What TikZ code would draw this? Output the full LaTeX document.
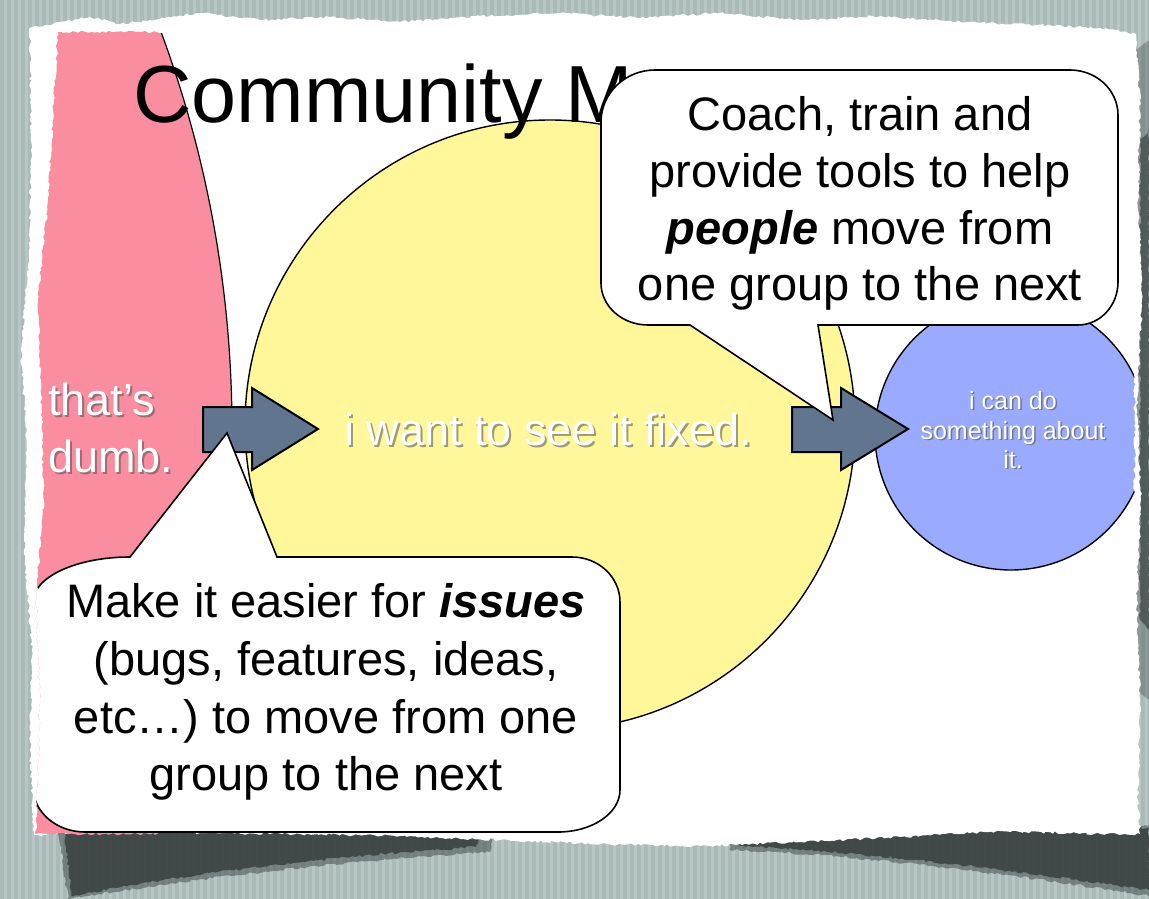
\documentclass[tikz,border=0pt]{standalone}
\usepackage{fontspec}
\setmainfont{Liberation Sans}
\usetikzlibrary{decorations.pathmorphing}
\definecolor{bgc}{RGB}{184,199,198}
\definecolor{bgs}{RGB}{170,186,185}
\definecolor{pinkc}{RGB}{250,142,160}
\definecolor{yellowc}{RGB}{255,247,153}
\definecolor{bluec}{RGB}{153,170,255}
\definecolor{arrowc}{RGB}{98,117,142}
\definecolor{shadowc}{RGB}{60,68,67}
\definecolor{txtshadow}{RGB}{80,80,80}
\tikzset{
  torn/.style={decorate, decoration={random steps, segment length=3pt, amplitude=1.3pt}},
  shapeline/.style={draw=black, line width=1.4pt},
  blockarrow/.style={fill=arrowc, draw=black, line width=2pt, line join=miter},
  callout/.style={fill=white, draw=black, line width=1.6pt, line join=miter},
  calltext/.style={anchor=base, inner sep=0pt, text=black, font=\fontsize{47}{57}\selectfont},
  bigwhite/.style={inner sep=0pt, text=white, font=\fontsize{45}{54}\selectfont},
  bigshadow/.style={inner sep=0pt, text=txtshadow, opacity=0.55, font=\fontsize{45}{54}\selectfont},
  smallwhite/.style={anchor=base, inner sep=0pt, text=white, font=\fontsize{25}{30}\selectfont},
  smallshadow/.style={anchor=base, inner sep=0pt, text=txtshadow, opacity=0.6, font=\fontsize{25}{30}\selectfont},
}
\begin{document}
\begin{tikzpicture}[x=1pt,y=-1pt]
\useasboundingbox (0,0) rectangle (1149,899);
% background with stripes
\fill[bgc] (0,0) rectangle (1149,899);
\foreach \i in {0,7,...,1149} { \fill[bgs] (\i,0) rectangle (\i+3.5,899); }
% shadows under the paper
\pgfmathsetseed{11}
\fill[shadowc, opacity=0.5, torn] (58,826) -- (492,832) -- (490,852) .. controls (320,862) and (160,884) .. (68,899) -- cycle;
\fill[shadowc, opacity=0.9, torn] (64,828) -- (480,834) -- (476,847) .. controls (300,858) and (150,880) .. (72,896) -- cycle;
\fill[shadowc, opacity=0.5, torn] (728,830) -- (1149,826) -- (1149,896) .. controls (1000,872) and (850,854) .. (730,850) -- cycle;
\fill[shadowc, opacity=0.9, torn] (738,832) -- (1149,828) -- (1149,890) .. controls (1000,868) and (850,851) .. (740,846) -- cycle;
% right-edge shadow
\fill[shadowc, opacity=0.35] (1136,50) -- (1149,40) -- (1149,700) -- (1136,690) -- cycle;
\fill[shadowc, opacity=0.7, torn] (1140,140) -- (1149,130) -- (1149,630) -- (1140,620) -- cycle;
% the torn paper
\pgfmathsetseed{3}
\fill[white, torn] (30,28) -- (60,22) -- (90,17) -- (120,24) -- (150,20) -- (200,13) -- (260,20) -- (330,17) -- (400,22) -- (480,16) -- (560,13) -- (640,18) -- (720,13) -- (800,20) -- (880,16) -- (960,22) -- (1040,25) -- (1100,28) -- (1136,34)
  -- (1140,100) -- (1138,200) -- (1142,300) -- (1137,400) -- (1141,500) -- (1137,600) -- (1140,700) -- (1138,800) -- (1140,834)
  -- (1100,834) -- (1000,831) -- (900,837) -- (800,842) -- (700,846) -- (600,844) -- (500,840) -- (400,836) -- (300,834) -- (200,833) -- (100,831) -- (34,835)
  -- (30,750) -- (32,650) -- (24,550) -- (27,450) -- (21,350) -- (29,250) -- (31,150) -- cycle;
% slide content, clipped to the torn slide area
\begin{scope}
\pgfmathsetseed{5}
\clip[torn] (58,32) -- (1134,32) -- (1133,300) -- (1135,450) -- (1132,600) -- (1134,834) -- (36,834) -- (40,700) -- (36,600) -- (44,500) -- (42,420) -- (38,300) -- (48,200) -- (54,100) -- cycle;
% pink group
\fill[pinkc] (-915,430) circle[radius=1147];
\draw[black, line width=1.2pt] (-915,430) circle[radius=1147];
% yellow group
\draw[shapeline, fill=yellowc] (550,425) circle[radius=305];
% blue group
\draw[shapeline, fill=bluec] (1011,434) circle[radius=136];
% title
\node[anchor=base west, inner sep=0pt, font=\fontsize{81}{97}\selectfont] (title) at (133,122) {Community Management};
% group labels
\node[bigshadow, anchor=base west] (dumbS1) at (50,417) {that’s};
\node[bigwhite, anchor=base west] (dumb1) at (48,415) {that’s};
\node[bigshadow, anchor=base west] (dumbS2) at (50,474) {dumb.};
\node[bigwhite, anchor=base west] (dumb2) at (48,472) {dumb.};
\node[bigshadow, anchor=base] (fixS) at (550,447) {i want to see it fixed.};
\node[bigwhite, anchor=base] (fix) at (548,445) {i want to see it fixed.};
\node[smallshadow] (doS1) at (1014.5,410.5) {i can do};
\node[smallwhite] (do1) at (1013,409) {i can do};
\node[smallshadow] (doS2) at (1014.5,440.5) {something about};
\node[smallwhite] (do2) at (1013,439) {something about};
\node[smallshadow] (doS3) at (1014.5,469.5) {it.};
\node[smallwhite] (do3) at (1013,468) {it.};
% block arrows
\draw[blockarrow] (203,407) -- (252,407) -- (252,388) -- (318,429) -- (252,470) -- (252,452) -- (203,452) -- cycle;
\draw[blockarrow] (792,407) -- (841,407) -- (841,388) -- (908,429) -- (841,470) -- (841,452) -- (792,452) -- cycle;
% top callout
\draw[callout] (655,70) -- (1070,70) arc[start angle=270, end angle=360, x radius=48, y radius=45]
  -- (1118,282) arc[start angle=0, end angle=90, x radius=40, y radius=43]
  -- (818,325) -- (833,420) -- (690,325) -- (648,325)
  arc[start angle=90, end angle=180, x radius=47, y radius=42]
  -- (601,122) arc[start angle=180, end angle=270, x radius=54, y radius=52] -- cycle;
% bottom callout
\draw[callout] (130,557) -- (227,433) -- (277,557) -- (572,557)
  arc[start angle=270, end angle=360, x radius=48, y radius=45]
  -- (620,790) arc[start angle=0, end angle=90, x radius=62, y radius=42]
  -- (85,832) arc[start angle=90, end angle=180, x radius=52, y radius=45]
  -- (33,602) arc[start angle=180, end angle=270, x radius=97, y radius=45] -- cycle;
\end{scope}
% callout texts
\node[calltext] (c1) at (860,130) {Coach, train and};
\node[calltext] (c2) at (860,187) {provide tools to help};
\node[calltext] (c3) at (860,244) {\textbf{\textit{people}} move from};
\node[calltext] (c4) at (860,300) {one group to the next};
\node[calltext] (m1) at (326,617) {Make it easier for \textbf{\textit{issues}}};
\node[calltext] (m2) at (326,675) {(bugs, features, ideas,};
\node[calltext] (m3) at (326,733) {etc…) to move from one};
\node[calltext] (m4) at (326,790) {group to the next};
\end{tikzpicture}
\end{document}
